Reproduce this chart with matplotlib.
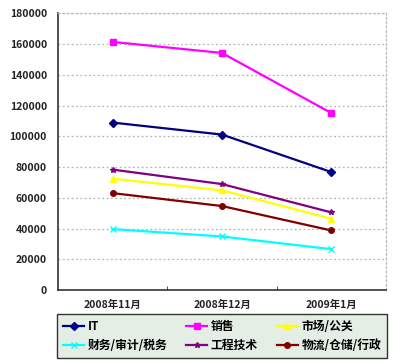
from matplotlib import pyplot as plt
import numpy as np

plt.rcParams['font.family'] = ['Noto Sans CJK SC', 'DejaVu Sans']

months = ['2008年11月', '2008年12月', '2009年1月']
it = [109000, 101200, 76800]
sales = [161500, 154300, 115200]
market = [72500, 64900, 46450]
finance = [39700, 34900, 26650]
engineering = [78400, 69000, 50550]
logistics = [63100, 54700, 38800]

# (label, values, color, marker)
series = [
    ('IT', it, '#000080', 'D'),
    ('销售', sales, '#FF00FF', 's'),
    ('市场/公关', market, '#FFFF00', '^'),
    ('财务/审计/税务', finance, '#00FFFF', 'x'),
    ('工程技术', engineering, '#800080', '*'),
    ('物流/仓储/行政', logistics, '#800000', 'o'),
]

fig = plt.figure(figsize=(4.0, 3.64), dpi=100)
ax = fig.add_axes([0.145, 0.203, 0.82, 0.76])

x = np.arange(len(months))
lines = {}
for label, vals, color, marker in series:
    ln, = ax.plot(x, vals, color=color, marker=marker, markersize=4,
                  linewidth=1.6, label=label)
    lines[label] = ln

ax.set_xlim(-0.5, 2.5)
ax.set_ylim(0, 180000)
ax.set_yticks(np.arange(0, 180001, 20000))
ax.set_yticklabels([str(v) for v in range(0, 180001, 20000)])
ax.set_xticks(x)
ax.set_xticklabels(months)
ax.set_xticks([0.5, 1.5], minor=True)
ax.tick_params(axis='x', which='major', length=0, pad=7)
ax.tick_params(axis='x', which='minor', length=3, direction='in', color='#333333')
ax.tick_params(axis='y', length=0, pad=8)
for lab in ax.get_xticklabels() + ax.get_yticklabels():
    lab.set_fontsize(7.5)
    lab.set_fontweight('bold')
    lab.set_color('#222222')

ax.grid(axis='y', color='#b5b5b5', linestyle=(0, (1.5, 2)), linewidth=0.9)
ax.spines['left'].set_color('#333333')
ax.spines['bottom'].set_color('#333333')
ax.spines['left'].set_linewidth(1.2)
ax.spines['bottom'].set_linewidth(1.2)
for s in ['top', 'right']:
    ax.spines[s].set_color('#bbbbbb')
    ax.spines[s].set_linestyle((0, (1.5, 2)))
    ax.spines[s].set_linewidth(0.9)

order = ['IT', '财务/审计/税务', '销售', '工程技术', '市场/公关', '物流/仓储/行政']
leg = fig.legend([lines[k] for k in order], order, ncol=3, mode='expand',
                 bbox_to_anchor=(0.1425, 0.0165, 0.825, 0.118), loc='lower left',
                 prop={'size': 8.5, 'weight': 'bold'}, fancybox=False,
                 handlelength=1.8, handletextpad=0.3, borderaxespad=0,
                 labelspacing=0.5, borderpad=0.5)
leg.get_frame().set_facecolor('#e4eee4')
leg.get_frame().set_edgecolor('#333333')
leg.get_frame().set_alpha(1)

plt.savefig('out.png', dpi=100)
plt.close()
